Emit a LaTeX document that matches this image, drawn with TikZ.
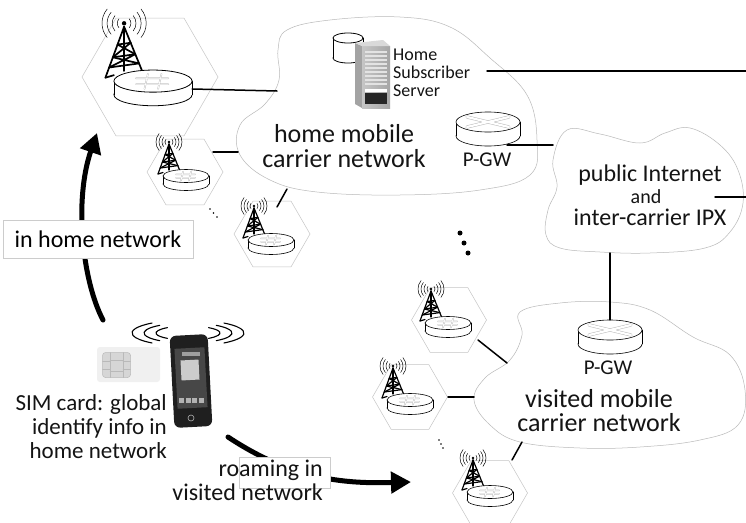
\documentclass[tikz,border=0pt]{standalone}
\usepackage{fontspec}
\setmainfont{Carlito}
\usetikzlibrary{arrows.meta,shapes.geometric}

\tikzset{
  cellhex/.style={regular polygon, regular polygon sides=6, draw=gray!45, line width=0.5pt, inner sep=0pt},
  cloudline/.style={draw=gray!55, line width=0.5pt, fill=white},
  link/.style={line width=1.5pt, black},
  bigarrow/.style={line width=5pt, -{Triangle[length=20pt,width=21pt]}},
  lbl/.style={inner sep=0pt, text=black!92},
  tagbox/.style={draw=gray!40, line width=0.6pt, fill=white, inner sep=0pt},
  rtrbox/.style={inner sep=0pt, draw=none},
  hashline/.style={gray!50, line width=0.45pt, double=white, double distance=0.7pt},
  xline/.style={gray!55, line width=0.5pt, double=white, double distance=2.2pt},
  wave/.style={line width=0.5pt},
}

% cylinder: top ellipse centre (#1,#2), radii #3/#4 (pt), side height #5, outline #6
\newcommand{\cylbody}[6]{%
  \filldraw[fill=white, line width=#6] (#1,#2+#5) ellipse ({#3pt} and {#4pt});
  \fill[white] (#1-#3,#2) rectangle (#1+#3,#2+#5);
  \draw[line width=#6] (#1-#3,#2) -- (#1-#3,#2+#5) (#1+#3,#2) -- (#1+#3,#2+#5);
  \filldraw[fill=white, line width=#6] (#1,#2) ellipse ({#3pt} and {#4pt});
}

% base-station cell: #1 name, #2/#3 hexagon centre, #4 hexagon diameter,
% #5/#6 origin of mast and router, #7 scale, #8 mast line width, #9 router outline
\newcommand{\bscell}[9]{%
  \node[cellhex, minimum size=#4] (#1) at (#2,#3) {};
  \begin{scope}[shift={(#5,#6)}, scale=#7]
    % radio waves around the mast tip
    \foreach \r in {4,7,10,13}{
      \draw[wave] (-17,-31) ++(140:\r pt) arc[start angle=140, end angle=220, radius=\r pt];
      \draw[wave] (-17,-31) ++(-40:\r pt) arc[start angle=-40, end angle=40, radius=\r pt];
    }
    \fill (-17,-31) circle (1.3pt);
    % lattice mast
    \begin{scope}[line width=#8, line join=round]
      \draw (-28,1) -- (-17,-29) -- (-6,-2);
      \draw (-17,-29) -- (-17,-3);
      \draw (-20.85,-18.5) -- (-13.15,-19.55)
            (-23.6,-11) -- (-10.4,-12.8)
            (-25.8,-5) -- (-8.2,-7.4);
      \draw (-20.85,-18.5) -- (-10.4,-12.8)
            (-13.15,-19.55) -- (-23.6,-11)
            (-23.6,-11) -- (-8.2,-7.4)
            (-10.4,-12.8) -- (-25.8,-5);
      \draw (-28,1) -- (-23,-0.5);
    \end{scope}
    % router disc
    \cylbody{0}{3}{23}{6.5}{8}{#9}
    \draw[hashline] (-10,1.3) -- (9,1.3) (-10,4.8) -- (9,4.8)
                    (-3,-1.3) -- (-5,7.6) (5,-1.3) -- (3,7.6);
  \end{scope}
}

% packet gateway router: #1 name, #2/#3 top ellipse centre
\newcommand{\pgw}[3]{%
  \node[rtrbox, minimum width=64pt, minimum height=34pt] (#1) at (#2,#3+7) {};
  \cylbody{#2}{#3}{32}{10}{14}{0.6pt}
  \draw[xline] (#2-21,#3-5) -- (#2+21,#3+5) (#2-21,#3+5) -- (#2+21,#3-5);
}

\begin{document}
\begin{tikzpicture}[x=1pt, y=-1pt, line cap=round]
\useasboundingbox (0,0) rectangle (746,522);
\fill[white] (0,0) rectangle (746,522);

% ---------- network clouds ----------
\draw[cloudline] plot[smooth cycle, tension=0.65] coordinates {
  (287,30) (330,20) (400,17) (450,27) (490,58) (527,95) (537,140) (530,175)
  (480,190) (400,195) (317,192) (270,180) (240,155) (240,125) (265,104)
  (279,80) (278,50)};
\draw[cloudline] plot[smooth cycle, tension=0.65] coordinates {
  (567,130) (600,134) (640,143) (665,133) (690,128) (720,145) (738,170)
  (743,203) (730,232) (705,248) (650,253) (600,252) (560,248) (546,235)
  (548,210) (557,187) (553,160)};
\draw[cloudline] plot[smooth cycle, tension=0.65] coordinates {
  (520,312) (560,303) (610,302) (650,310) (693,337) (730,355) (745,390)
  (738,425) (700,440) (640,447) (580,448) (520,442) (490,425) (474,400)
  (485,378) (510,360) (522,335)};

% ---------- connector end points ----------
\coordinate (homeW1) at (277,91);
\coordinate (cA1) at (213,152);   \coordinate (homeW2) at (238,152);
\coordinate (cB1) at (277,207);   \coordinate (homeS) at (287,189);
\coordinate (hssE) at (487,71);   \coordinate (eastTop) at (746,71);
\coordinate (pgwHout) at (507,145); \coordinate (inetW) at (553,145);
\coordinate (inetE) at (715,197); \coordinate (eastMid) at (746,197);
\coordinate (inetS) at (610,253);
\coordinate (cC1) at (478,340);   \coordinate (visNW) at (507,363);
\coordinate (cD1) at (448,397);   \coordinate (visW) at (474,397);
\coordinate (cE1) at (512,460);   \coordinate (visSW) at (522,442);

% ---------- base-station cells ----------
\bscell{cellHome}{150}{77}{136pt}{153}{76}{1.7}{1.7pt}{0.8pt}
\bscell{cellA}{185}{172}{76pt}{186}{173}{1}{1.2pt}{0.6pt}
\bscell{cellB}{272}{234}{76pt}{271}{237}{1}{1.2pt}{0.6pt}
\bscell{cellC}{449}{320}{75pt}{448}{320}{1}{1.2pt}{0.6pt}
\bscell{cellD}{410}{397}{75pt}{410}{397}{1}{1.2pt}{0.6pt}
\bscell{cellE}{490}{493}{75pt}{490}{489}{1}{1.2pt}{0.6pt}
\node[rtrbox, minimum width=78pt, minimum height=36pt] (homeRtr) at (153,89) {};

% ---------- gateways ----------
\pgw{pgwH}{488}{122}
\pgw{pgwV}{610}{330}

% ---------- links ----------
\draw[link] (homeRtr.east) -- (homeW1);
\draw[link] (cA1) -- (homeW2);
\draw[link] (cB1) -- (homeS);
\draw[link] (hssE) -- (eastTop);
\draw[link] (pgwHout) -- (inetW);
\draw[link] (inetE) -- (eastMid);
\draw[link] (inetS) -- (pgwV.north);
\draw[link] (cC1) -- (visNW);
\draw[link] (cD1) -- (visW);
\draw[link] (cE1) -- (visSW);

% ---------- home subscriber server ----------
\cylbody{348}{38}{15}{5}{20}{0.8pt}
\fill[gray!72] (355,43) -- (362,46) -- (362,108) -- (355,104) -- cycle;
\shade[left color=gray!45, right color=gray!70] (362,46) rectangle (390,108);
\fill[gray!30] (355,43) -- (383,40) -- (390,46) -- (362,46) -- cycle;
\foreach \i in {0,...,8} \fill[gray!22] (365,51+4*\i) rectangle (387,53+4*\i);
\fill[white] (365,88.5) rectangle (387,92);
\fill[black!85] (365,93) rectangle (387,104);
\node[lbl, anchor=west, align=left, font=\fontsize{18}{18}\selectfont] (hss) at (393,73) {Home\\Subscriber\\Server};

% ---------- network labels ----------
\node[lbl, align=center, font=\fontsize{26}{25}\selectfont] (homeLbl) at (344,146) {home mobile\\carrier network};
\node[lbl, font=\fontsize{21}{21}\selectfont] (pgwHLbl) at (487,160) {P-GW};
\node[lbl, font=\fontsize{24}{24}\selectfont] (inet1) at (650,175) {public Internet};
\node[lbl, font=\fontsize{20}{20}\selectfont] (inet2) at (646,197) {and};
\node[lbl, font=\fontsize{24}{24}\selectfont] (inet3) at (650,217) {inter-carrier IPX};
\node[lbl, font=\fontsize{21}{21}\selectfont] (pgwVLbl) at (608,368) {P-GW};
\node[lbl, align=center, font=\fontsize{26}{24}\selectfont] (visLbl) at (599,411) {visited mobile\\carrier network};

% ---------- ellipsis marks ----------
\fill (460,233) circle (2.5pt) (464,243) circle (2.5pt) (468,253) circle (2.5pt);
\fill (210,209) circle (0.9pt) (213.5,213) circle (0.9pt) (217,217) circle (0.9pt);
\fill (439,440) circle (0.9pt) (441,444) circle (0.9pt) (443,448) circle (0.9pt);

% ---------- handset and SIM ----------
\foreach \a/\b in {32/7, 44/10, 56/13}{
  \draw[line width=1.1pt] (188,333) ++(130:\a pt and \b pt) arc[start angle=130, end angle=230, x radius=\a pt, y radius=\b pt];
  \draw[line width=1.1pt] (188,333) ++(-50:\a pt and \b pt) arc[start angle=-50, end angle=50, x radius=\a pt, y radius=\b pt];
}
\node[fill=gray!12, rounded corners=3pt, minimum width=63pt, minimum height=35pt, inner sep=0pt] (sim) at (128.5,364.5) {};
\node[fill=gray!32, draw=gray!55, line width=0.5pt, rounded corners=3pt, minimum width=28pt, minimum height=25pt, inner sep=0pt] (chip) at (116.5,365) {};
\draw[gray!55, line width=0.5pt] (110,352.5) -- (110,377.5) (123,352.5) -- (123,377.5)
  (102.5,361) -- (110,361) (123,361) -- (130.5,361) (102.5,369) -- (110,369) (123,369) -- (130.5,369)
  (110,360) -- (123,360) (110,371) -- (123,371);
\node[fill=black!88, rounded corners=6pt, minimum width=38pt, minimum height=92pt, inner sep=0pt, rotate=3] (phone) at (191,381) {};
\node[fill=black!72, minimum width=30pt, minimum height=60pt, inner sep=0pt, rotate=3] (screen) at (191,378) {};
\node[fill=gray!40, minimum width=18pt, minimum height=20pt, inner sep=0pt, rotate=3] (art) at (190,370) {};
\fill[gray!75] (182,352) rectangle (200,356);
\foreach \k in {0,1,2,3} \fill[gray!60] (179+6.5*\k,398) rectangle (184+6.5*\k,403);
\draw[gray!60, line width=0.6pt] (191,418) circle (3pt);
\node[lbl, anchor=east, align=right, font=\fontsize{23}{24}\selectfont] (simLbl) at (167,427) {SIM card: global\\identify info in\\home network};

% ---------- mobility arrows ----------
\coordinate (inHomeTail) at (103,320);
\coordinate (inHomeHead) at (97,133);
\draw[bigarrow] (inHomeTail) .. controls (82,280) and (74,200) .. (inHomeHead);
\node[tagbox, minimum width=190pt, minimum height=38pt, font=\fontsize{24}{24}\selectfont] (inHomeLbl) at (98,239) {in home network};

\coordinate (roamTail) at (228,437);
\coordinate (roamHead) at (411,482);
\draw[bigarrow] (roamTail) .. controls (290,478) and (340,484) .. (roamHead);
\node[tagbox, minimum width=91pt, minimum height=31pt] (roamBox) at (284.5,472.5) {};
\node[lbl, anchor=east, align=right, font=\fontsize{24}{24}\selectfont] (roamLbl) at (323,480) {roaming in\\visited network};
\end{tikzpicture}
\end{document}
